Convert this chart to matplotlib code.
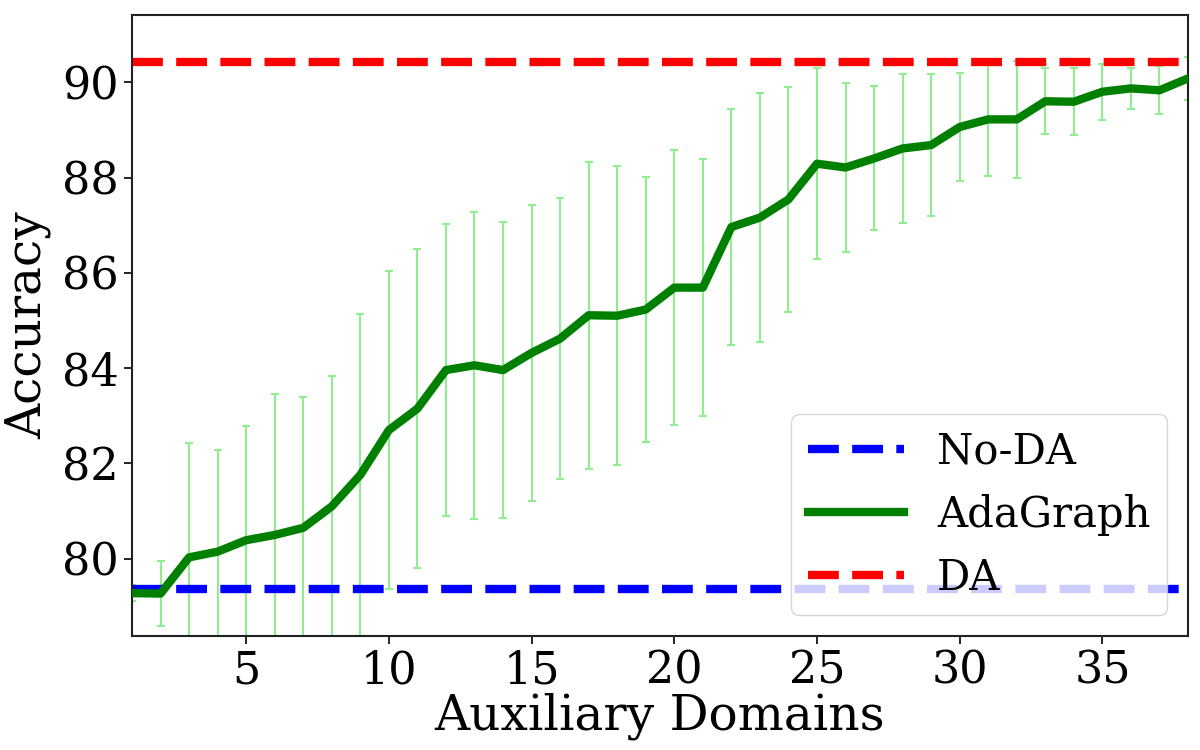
import matplotlib
matplotlib.use('Agg')
import matplotlib.pyplot as plt
import numpy as np

plt.rcParams['font.family'] = 'DejaVu Serif'

# Accuracy per number of auxiliary domains
domains = np.arange(1, 39)
adagraph = [79.28, 79.27, 80.03, 80.15, 80.39, 80.50, 80.65, 81.10, 81.76, 82.70,
            83.15, 83.96, 84.06, 83.96, 84.32, 84.62, 85.11, 85.10, 85.23, 85.69,
            85.69, 86.96, 87.16, 87.54, 88.29, 88.21, 88.40, 88.61, 88.68, 89.06,
            89.22, 89.22, 89.60, 89.59, 89.80, 89.87, 89.83, 90.08]
adagraph_std = [0.16, 0.68, 2.40, 2.13, 2.40, 2.96, 2.75, 2.74, 3.38, 3.34,
                3.35, 3.07, 3.22, 3.10, 3.11, 2.95, 3.22, 3.14, 2.78, 2.89,
                2.69, 2.48, 2.61, 2.36, 2.00, 1.78, 1.51, 1.57, 1.49, 1.13,
                1.18, 1.22, 0.69, 0.70, 0.59, 0.43, 0.50, 0.45]
no_da = 79.36
da = 90.42

fig = plt.figure(figsize=(12, 7.5), dpi=100)
ax = fig.add_axes([0.11, 0.152, 0.88, 0.828])

ax.errorbar(domains, adagraph, yerr=adagraph_std, fmt='none', ecolor='lightgreen',
            elinewidth=1.5, capsize=3, capthick=1.5, zorder=1)
ax.plot(domains, [no_da] * len(domains), '--', color='blue', lw=6, label='No-DA', zorder=2)
ax.plot(domains, adagraph, '-', color='green', lw=6, label='AdaGraph', zorder=3)
ax.plot(domains, [da] * len(domains), '--', color='red', lw=6, label='DA', zorder=2)

ax.set_xlim(1, 38)
ax.set_ylim(78.38, 91.41)
ax.set_xticks([5, 10, 15, 20, 25, 30, 35])
ax.set_yticks([80, 82, 84, 86, 88, 90])
ax.tick_params(labelsize=32, length=6, width=1.2)
for s in ax.spines.values():
    s.set_linewidth(1.5)
    s.set_color('#222222')

ax.set_xlabel('Auxiliary Domains', fontsize=35, labelpad=0)
ax.set_ylabel('Accuracy', fontsize=35, labelpad=8)
ax.legend(loc='lower right', fontsize=30, handlelength=2.3)

fig.savefig('out.png', dpi=100)
